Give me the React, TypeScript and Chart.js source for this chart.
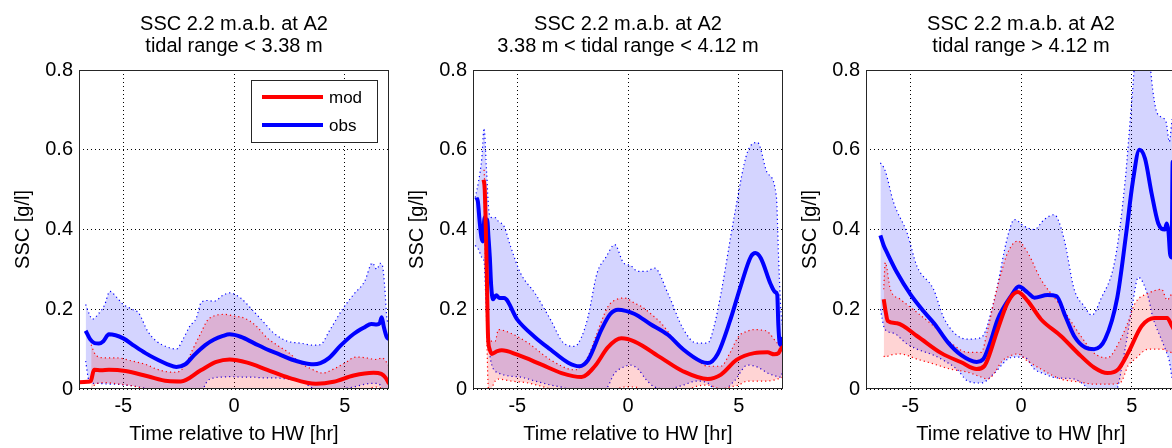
import { useEffect, useRef } from 'react';
import { Chart, registerables } from 'chart.js';

Chart.register(...registerables);

const FONT = "'Liberation Sans', Arial, Helvetica, sans-serif";

// ---------- text ----------
const titleLine1 = 'SSC 2.2 m.a.b. at A2';
const subtitles = ['tidal range < 3.38 m', '3.38 m < tidal range < 4.12 m', 'tidal range > 4.12 m'];
const xLabel = 'Time relative to HW [hr]';
const yLabel = 'SSC [g/l]';
const legendLabels = ['mod', 'obs'];
const xTicks = [-5, 0, 5];
const xTickLabels = ['-5', '0', '5'];
const yTicks = [0, 0.2, 0.4, 0.6, 0.8];
const yTickLabels = ['0', '0.2', '0.4', '0.6', '0.8'];

// ---------- panel 1 : tidal range < 3.38 m ----------
const p1ModX = [-7.0, -6.6, -6.47, -6.32, -6.0, -5.65, -4.9, -3.9, -3.0, -2.4, -1.5, -0.8, -0.2, 0.6, 1.5, 2.5, 3.7, 4.5, 5.4, 6.3, 6.65, 6.85, 7.0];
const p1ModY = [0.017, 0.018, 0.02, 0.048, 0.047, 0.048, 0.045, 0.032, 0.02, 0.019, 0.047, 0.068, 0.074, 0.066, 0.048, 0.028, 0.013, 0.018, 0.034, 0.041, 0.038, 0.028, 0.013];
const p1ObsX = [-6.7, -6.5, -6.3, -6.1, -5.9, -5.65, -5.0, -4.5, -4.0, -3.4, -3.0, -2.6, -2.2, -1.8, -1.3, -0.9, -0.5, -0.2, 0.3, 0.9, 1.5, 2.0, 2.6, 3.1, 3.6, 3.9, 4.3, 4.8, 5.4, 5.9, 6.2, 6.45, 6.58, 6.67, 6.77, 6.9, 7.0];
const p1ObsY = [0.146, 0.125, 0.115, 0.114, 0.12, 0.137, 0.127, 0.108, 0.09, 0.072, 0.062, 0.055, 0.062, 0.085, 0.11, 0.124, 0.133, 0.137, 0.131, 0.115, 0.099, 0.088, 0.074, 0.066, 0.062, 0.065, 0.078, 0.108, 0.138, 0.155, 0.163, 0.162, 0.165, 0.18, 0.155, 0.13, 0.125];
const p1ObsBandX = [-6.7, -6.55, -6.4, -6.1, -5.85, -5.6, -5.3, -5.0, -4.6, -4.3, -3.9, -3.5, -3.0, -2.6, -2.3, -2.0, -1.7, -1.5, -1.2, -0.9, -0.5, -0.2, 0.3, 0.8, 1.3, 1.8, 2.4, 3.0, 3.6, 3.9, 4.3, 4.9, 5.4, 5.9, 6.25, 6.45, 6.6, 6.7, 6.8, 6.9, 7.0];
const p1ObsUpper = [0.212, 0.19, 0.175, 0.19, 0.21, 0.245, 0.23, 0.212, 0.2, 0.19, 0.145, 0.12, 0.105, 0.1, 0.125, 0.157, 0.178, 0.215, 0.222, 0.22, 0.235, 0.241, 0.228, 0.2, 0.17, 0.14, 0.12, 0.115, 0.11, 0.111, 0.145, 0.2, 0.237, 0.27, 0.316, 0.3, 0.315, 0.31, 0.26, 0.18, 0.16];
const p1ObsLower = [0.07, 0.02, 0.014, 0.014, 0.013, 0.012, 0.012, 0.01, 0.008, 0.005, 0.0, -0.01, -0.02, -0.02, -0.02, -0.02, -0.015, -0.01, 0.02, 0.028, 0.03, 0.031, 0.03, 0.03, 0.028, 0.028, 0.025, 0.02, 0.0, -0.01, -0.01, 0.0, 0.005, 0.012, 0.014, 0.014, 0.01, 0.0, -0.01, -0.01, -0.01];
const p1ModBandX = [-6.45, -6.3, -6.1, -5.8, -5.3, -4.6, -4.0, -3.5, -3.0, -2.6, -2.2, -1.9, -1.5, -1.2, -0.8, -0.4, 0.0, 0.5, 1.0, 1.5, 2.0, 2.5, 3.0, 3.5, 4.0, 4.5, 5.0, 5.5, 6.0, 6.4, 6.7, 6.85, 7.0];
const p1ModUpper = [0.111, 0.09, 0.08, 0.078, 0.078, 0.07, 0.062, 0.05, 0.043, 0.042, 0.06, 0.095, 0.14, 0.172, 0.185, 0.187, 0.183, 0.177, 0.158, 0.128, 0.108, 0.09, 0.065, 0.05, 0.04, 0.05, 0.065, 0.08, 0.078, 0.074, 0.078, 0.07, 0.057];
const p1ModLower = [0.0, 0.01, 0.015, 0.016, 0.013, 0.008, 0.0, -0.01, -0.02, -0.03, -0.03, -0.02, -0.01, -0.01, -0.005, -0.005, -0.005, -0.005, -0.01, -0.01, -0.015, -0.02, -0.02, -0.02, -0.02, -0.01, -0.005, -0.005, 0.0, 0.005, 0.0, -0.01, -0.02];

// ---------- panel 2 : 3.38 m < tidal range < 4.12 m ----------
const p2ModX = [-6.52, -6.47, -6.42, -6.37, -6.32, -6.25, -6.15, -5.9, -5.7, -5.0, -3.9, -3.0, -2.1, -1.5, -0.9, -0.3, 0.3, 1.5, 2.5, 3.6, 4.2, 4.9, 5.7, 6.3, 6.6, 6.8, 6.9, 7.0];
const p2ModY = [0.525, 0.5, 0.4, 0.27, 0.13, 0.1, 0.088, 0.095, 0.097, 0.086, 0.061, 0.04, 0.03, 0.057, 0.105, 0.127, 0.119, 0.078, 0.044, 0.025, 0.036, 0.073, 0.09, 0.092, 0.087, 0.09, 0.1, 0.106];
const p2ObsX = [-6.85, -6.78, -6.7, -6.62, -6.55, -6.48, -6.42, -6.36, -6.3, -6.24, -6.18, -6.1, -5.95, -5.8, -5.6, -5.0, -4.2, -3.5, -2.7, -2.2, -1.8, -1.2, -0.8, -0.45, 0.3, 1.0, 1.8, 2.5, 3.3, 3.6, 4.05, 4.6, 5.1, 5.55, 5.75, 6.0, 6.45, 6.65, 6.74, 6.79, 6.85, 6.92, 7.0];
const p2ObsY = [0.48, 0.47, 0.42, 0.38, 0.37, 0.43, 0.4, 0.425, 0.38, 0.33, 0.26, 0.225, 0.235, 0.228, 0.228, 0.174, 0.13, 0.099, 0.066, 0.057, 0.073, 0.149, 0.188, 0.199, 0.188, 0.163, 0.136, 0.099, 0.069, 0.065, 0.088, 0.17, 0.26, 0.332, 0.341, 0.328, 0.262, 0.243, 0.236, 0.16, 0.115, 0.11, 0.13];
const p2ObsBandX = [-6.9, -6.75, -6.6, -6.5, -6.4, -6.27, -6.15, -6.0, -5.85, -5.6, -5.3, -4.85, -4.2, -3.5, -2.9, -2.4, -2.1, -1.8, -1.4, -1.0, -0.6, -0.2, 0.1, 0.45, 0.8, 1.2, 1.8, 2.5, 3.1, 3.6, 3.9, 4.2, 4.8, 5.4, 5.85, 6.3, 6.7, 6.8, 6.9, 7.0];
const p2ObsUpper = [0.48, 0.52, 0.58, 0.654, 0.56, 0.44, 0.43, 0.43, 0.42, 0.408, 0.357, 0.29, 0.24, 0.174, 0.115, 0.107, 0.13, 0.182, 0.29, 0.33, 0.362, 0.316, 0.31, 0.295, 0.295, 0.303, 0.24, 0.15, 0.115, 0.115, 0.16, 0.24, 0.433, 0.595, 0.618, 0.541, 0.483, 0.33, 0.2, 0.15];
const p2ObsLower = [0.36, 0.35, 0.33, 0.32, 0.2, 0.1, 0.06, 0.045, 0.04, 0.035, 0.032, 0.03, 0.02, 0.01, 0.003, -0.01, -0.015, -0.01, -0.005, 0.0, 0.04, 0.055, 0.06, 0.05, 0.025, 0.005, 0.0, 0.01, 0.02, 0.015, 0.0, -0.005, 0.02, 0.06, 0.055, 0.04, 0.032, 0.03, 0.03, 0.05];
const p2ModBandX = [-6.5, -6.4, -6.3, -6.2, -6.0, -5.85, -5.3, -4.5, -3.5, -2.4, -1.8, -1.4, -0.9, -0.5, -0.15, 0.3, 0.6, 1.0, 1.5, 2.0, 2.55, 3.0, 3.6, 4.2, 4.6, 5.0, 5.4, 5.7, 6.0, 6.3, 6.75, 7.0];
const p2ModUpper = [0.55, 0.42, 0.15, 0.12, 0.12, 0.149, 0.14, 0.115, 0.073, 0.048, 0.082, 0.14, 0.207, 0.225, 0.228, 0.215, 0.207, 0.19, 0.165, 0.13, 0.099, 0.08, 0.057, 0.057, 0.09, 0.132, 0.145, 0.149, 0.148, 0.144, 0.115, 0.107];
const p2ModLower = [0.5, 0.2, 0.0, 0.0, 0.02, 0.025, 0.02, 0.015, 0.0, -0.02, -0.02, -0.01, -0.01, 0.0, 0.005, 0.005, 0.0, -0.01, -0.01, -0.01, -0.01, 0.005, 0.01, 0.0, 0.005, 0.01, 0.02, 0.02, 0.02, 0.02, 0.025, 0.03];

// ---------- panel 3 : tidal range > 4.12 m ----------
const p3ModX = [-6.2, -6.1, -6.02, -5.6, -4.7, -3.6, -2.7, -2.0, -1.65, -1.05, -0.6, -0.15, 0.3, 0.9, 1.8, 2.7, 3.3, 3.9, 4.4, 4.85, 5.45, 6.05, 6.6, 6.8, 7.0];
const p3ModY = [0.225, 0.19, 0.171, 0.165, 0.133, 0.09, 0.067, 0.05, 0.058, 0.15, 0.217, 0.243, 0.221, 0.175, 0.133, 0.083, 0.054, 0.04, 0.05, 0.092, 0.158, 0.178, 0.178, 0.16, 0.14];
const p3ObsX = [-6.35, -6.2, -6.05, -5.6, -5.0, -4.4, -3.9, -3.3, -2.7, -2.0, -1.7, -1.4, -1.05, -0.45, -0.1, 0.3, 0.6, 1.2, 1.6, 2.0, 2.4, 2.9, 3.3, 3.8, 4.35, 4.75, 5.05, 5.35, 5.6, 5.9, 6.2, 6.5, 6.58, 6.66, 6.73, 6.8, 6.85, 6.9, 7.0];
const p3ObsY = [0.385, 0.36, 0.342, 0.292, 0.238, 0.195, 0.163, 0.117, 0.085, 0.068, 0.075, 0.115, 0.175, 0.233, 0.257, 0.242, 0.229, 0.236, 0.233, 0.183, 0.133, 0.104, 0.1, 0.125, 0.23, 0.39, 0.52, 0.6, 0.578, 0.49, 0.415, 0.4, 0.415, 0.395, 0.34, 0.33, 0.57, 0.57, 0.57];
const p3ObsBandX = [-6.35, -6.15, -5.75, -5.15, -4.7, -3.95, -3.5, -2.9, -2.4, -1.8, -1.2, -0.6, -0.3, 0.15, 0.6, 1.05, 1.5, 1.95, 2.4, 2.85, 3.2, 3.6, 4.25, 4.7, 5.0, 5.3, 5.75, 5.95, 6.1, 6.3, 6.55, 6.7, 6.85, 7.0];
const p3ObsUpper = [0.567, 0.55, 0.467, 0.392, 0.308, 0.25, 0.18, 0.135, 0.125, 0.129, 0.225, 0.383, 0.425, 0.408, 0.4, 0.425, 0.437, 0.375, 0.25, 0.208, 0.185, 0.225, 0.325, 0.52, 0.72, 0.9, 0.85, 0.75, 0.7, 0.683, 0.67, 0.62, 0.68, 0.68];
const p3ObsLower = [0.2, 0.15, 0.14, 0.113, 0.1, 0.085, 0.072, 0.05, 0.02, 0.015, 0.04, 0.075, 0.08, 0.08, 0.05, 0.038, 0.029, 0.027, 0.025, 0.01, -0.01, -0.02, -0.01, 0.1, 0.2, 0.28, 0.23, 0.18, 0.156, 0.13, 0.095, 0.07, 0.025, 0.03];
const p3ModBandX = [-6.2, -6.13, -5.9, -5.45, -4.7, -3.95, -3.2, -2.4, -1.8, -1.5, -1.2, -0.9, -0.6, -0.15, 0.3, 0.9, 1.8, 2.7, 3.3, 3.9, 4.5, 4.85, 5.15, 5.75, 6.35, 6.6, 6.85, 7.0];
const p3ModUpper = [0.25, 0.317, 0.25, 0.225, 0.192, 0.158, 0.117, 0.092, 0.092, 0.15, 0.225, 0.29, 0.342, 0.371, 0.342, 0.275, 0.208, 0.133, 0.09, 0.078, 0.125, 0.17, 0.215, 0.24, 0.25, 0.223, 0.24, 0.22];
const p3ModLower = [0.083, 0.08, 0.085, 0.088, 0.075, 0.063, 0.05, 0.042, 0.03, 0.025, 0.04, 0.067, 0.08, 0.088, 0.07, 0.05, 0.025, 0.017, 0.012, 0.012, 0.017, 0.06, 0.075, 0.1, 0.1, 0.095, 0.09, 0.085];

type PanelData = {
  modX: number[]; modY: number[]; obsX: number[]; obsY: number[];
  obsBandX: number[]; obsUpper: number[]; obsLower: number[];
  modBandX: number[]; modUpper: number[]; modLower: number[];
};

const panels: PanelData[] = [
  { modX: p1ModX, modY: p1ModY, obsX: p1ObsX, obsY: p1ObsY, obsBandX: p1ObsBandX, obsUpper: p1ObsUpper, obsLower: p1ObsLower, modBandX: p1ModBandX, modUpper: p1ModUpper, modLower: p1ModLower },
  { modX: p2ModX, modY: p2ModY, obsX: p2ObsX, obsY: p2ObsY, obsBandX: p2ObsBandX, obsUpper: p2ObsUpper, obsLower: p2ObsLower, modBandX: p2ModBandX, modUpper: p2ModUpper, modLower: p2ModLower },
  { modX: p3ModX, modY: p3ModY, obsX: p3ObsX, obsY: p3ObsY, obsBandX: p3ObsBandX, obsUpper: p3ObsUpper, obsLower: p3ObsLower, modBandX: p3ModBandX, modUpper: p3ModUpper, modLower: p3ModLower },
];

const RED = '#ff0000';
const BLUE = '#0000ff';
const RED_FILL = 'rgba(255,0,0,0.17)';
const BLUE_FILL = 'rgba(0,0,255,0.17)';
const FRAME = '#262626';

const pts = (xs: number[], ys: number[]) => xs.map((x, i) => ({ x, y: ys[i] }));

function buildConfig(idx: number): any {
  const p = panels[idx];
  const base = { pointRadius: 0, pointHoverRadius: 0, cubicInterpolationMode: 'monotone' as const };
  const dotted = { ...base, borderWidth: 1.2, borderDash: [1.2, 3], fill: false };
  const datasets: any[] = [
    { ...base, label: legendLabels[0], data: pts(p.modX, p.modY), borderColor: RED, borderWidth: 4, borderJoinStyle: 'round', fill: false, order: 0 },
    { ...base, label: legendLabels[1], data: pts(p.obsX, p.obsY), borderColor: BLUE, borderWidth: 4, borderJoinStyle: 'round', fill: false, order: 1 },
    { ...dotted, data: pts(p.modBandX, p.modLower), borderColor: RED, order: 2 },
    { ...dotted, data: pts(p.modBandX, p.modUpper), borderColor: RED, fill: '-1', backgroundColor: RED_FILL, order: 2 },
    { ...dotted, data: pts(p.obsBandX, p.obsLower), borderColor: BLUE, order: 3 },
    { ...dotted, data: pts(p.obsBandX, p.obsUpper), borderColor: BLUE, fill: '-1', backgroundColor: BLUE_FILL, order: 3 },
  ];

  const framePlugin = {
    id: 'frame',
    afterDatasetsDraw(chart: any) {
      const { ctx, chartArea: a } = chart;
      ctx.save();
      ctx.strokeStyle = FRAME;
      ctx.lineWidth = 1;
      ctx.strokeRect(a.left + 0.5, a.top + 0.5, a.right - a.left - 1, a.bottom - a.top - 1);
      ctx.restore();
    },
  };

  const titlePlugin = {
    id: 'titles',
    afterDraw(chart: any) {
      const { ctx, chartArea: a } = chart;
      const cx = (a.left + a.right) / 2;
      ctx.save();
      ctx.fillStyle = '#000';
      ctx.font = `20px ${FONT}`;
      ctx.textAlign = 'center';
      ctx.textBaseline = 'alphabetic';
      ctx.fillText(titleLine1, cx, 30);
      ctx.fillText(subtitles[idx], cx, 52);
      ctx.restore();
    },
  };

  const legendPlugin = {
    id: 'boxLegend',
    afterDraw(chart: any) {
      if (idx !== 0) return;
      const { ctx, chartArea: a } = chart;
      const bx = a.right - 138;
      const by = a.top + 10;
      const bw = 126;
      const bh = 62;
      ctx.save();
      ctx.fillStyle = '#fff';
      ctx.fillRect(bx, by, bw, bh);
      ctx.strokeStyle = FRAME;
      ctx.lineWidth = 1;
      ctx.strokeRect(bx + 0.5, by + 0.5, bw, bh);
      const rows = [
        { y: by + 17, color: RED, text: legendLabels[0] },
        { y: by + 45, color: BLUE, text: legendLabels[1] },
      ];
      ctx.font = `17px ${FONT}`;
      ctx.textAlign = 'left';
      ctx.textBaseline = 'middle';
      for (const r of rows) {
        ctx.strokeStyle = r.color;
        ctx.lineWidth = 4;
        ctx.beginPath();
        ctx.moveTo(bx + 11, r.y);
        ctx.lineTo(bx + 72, r.y);
        ctx.stroke();
        ctx.fillStyle = '#000';
        ctx.fillText(r.text, bx + 78, r.y + 1);
      }
      ctx.restore();
    },
  };

  const tickFont = { size: 20, family: FONT };

  return {
    type: 'line',
    data: { datasets },
    plugins: [framePlugin, titlePlugin, legendPlugin],
    options: {
      responsive: false,
      animation: false,
      events: [],
      layout: { padding: { top: 70, right: 5, bottom: 0, left: 0 } },
      plugins: { legend: { display: false }, tooltip: { enabled: false }, title: { display: false } },
      scales: {
        x: {
          type: 'linear',
          min: -7,
          max: 7,
          afterBuildTicks: (s: any) => { s.ticks = xTicks.map((v) => ({ value: v })); },
          afterFit: (s: any) => { s.height = 59; },
          grid: { color: '#000', lineWidth: 1, drawTicks: false },
          border: { display: false, dash: [1, 3] },
          ticks: { padding: 5, color: '#000', font: tickFont, maxRotation: 0, autoSkip: false, callback: (_v: any, i: number) => xTickLabels[i] },
          title: { display: true, text: xLabel, color: '#000', font: tickFont, padding: { top: 0, bottom: 2 } },
        },
        y: {
          type: 'linear',
          min: 0,
          max: 0.8,
          afterBuildTicks: (s: any) => { s.ticks = yTicks.map((v) => ({ value: v })); },
          afterFit: (s: any) => { s.width = 79; },
          grid: { color: '#000', lineWidth: 1, drawTicks: false },
          border: { display: false, dash: [1, 3] },
          ticks: { padding: 6, color: '#000', font: tickFont, autoSkip: false, callback: (_v: any, i: number) => yTickLabels[i] },
          title: { display: true, text: yLabel, color: '#000', font: tickFont, padding: { top: 11, bottom: 0 } },
        },
      },
    },
  };
}

function Panel({ idx, left }: { idx: number; left: number }) {
  const ref = useRef<HTMLCanvasElement | null>(null);
  useEffect(() => {
    if (!ref.current) return;
    const chart = new Chart(ref.current, buildConfig(idx));
    return () => chart.destroy();
  }, [idx]);
  return <canvas ref={ref} width={394} height={448} style={{ position: 'absolute', left, top: 0 }} />;
}

const panelLefts = [0, 394, 787];

export default function App() {
  return (
    <div style={{ position: 'fixed', left: 0, top: 0, width: 1172, height: 448, overflow: 'hidden', background: '#fff' }}>
      {panelLefts.map((l, i) => (
        <Panel key={i} idx={i} left={l} />
      ))}
    </div>
  );
}
